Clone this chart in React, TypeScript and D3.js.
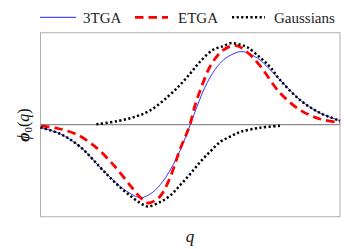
import React from 'react';
import * as d3 from 'd3';

// Gaussian (negative lobe)
const gaussNegQ = [-3.0, -2.6, -2.2, -1.8, -1.6, -1.4, -1.2, -1.0, -0.85, -0.6, -0.4, -0.2, 0.0, 0.2, 0.4, 0.6, 0.8, 1.0, 1.4, 1.84];
const gaussNegV = [-0.035, -0.116, -0.279, -0.536, -0.666, -0.785, -0.89, -0.979, -1.022, -0.966, -0.885, -0.754, -0.616, -0.466, -0.335, -0.216, -0.148, -0.091, -0.038, -0.0125];

// Gaussian (positive lobe)
const gaussPosQ = [-1.88, -1.45, -1.1, -0.8, -0.45, -0.2, 0.0, 0.2, 0.45, 0.65, 0.82, 1.0, 1.15, 1.4, 1.6, 1.8, 2.2, 2.6, 3.0];
const gaussPosV = [0.005, 0.046, 0.1, 0.18, 0.35, 0.5, 0.64, 0.79, 0.934, 0.98, 1.02, 1.0, 0.965, 0.84, 0.72, 0.559, 0.309, 0.146, 0.05];

// 3TGA
const tgaQ = [-3.0, -2.6, -2.2, -1.8, -1.6, -1.4, -1.2, -1.0, -0.8, -0.6, -0.4, -0.2, 0.0, 0.095, 0.295, 0.495, 0.695, 0.96, 1.06, 1.16, 1.4, 1.5, 1.8, 2.2, 2.6, 3.0];
const tgaV = [-0.035, -0.116, -0.279, -0.536, -0.66, -0.775, -0.86, -0.9125, -0.866, -0.75, -0.566, -0.316, 0.0, 0.16, 0.47, 0.6875, 0.825, 0.909, 0.9125, 0.896, 0.809, 0.75, 0.559, 0.309, 0.146, 0.05];

// ETGA
const etgaQ = [-2.99, -2.65, -2.25, -1.85, -1.61, -1.45, -1.21, -1.01, -0.87, -0.81, -0.61, -0.41, -0.21, -0.07, -0.005, 0.095, 0.23, 0.4, 0.63, 0.9, 1.16, 1.4, 1.8, 2.2, 2.6, 3.0];
const etgaV = [-0.016, -0.0475, -0.129, -0.304, -0.454, -0.566, -0.754, -0.904, -0.975, -0.977, -0.9, -0.67, -0.316, -0.1075, 0.0, 0.24, 0.48, 0.73, 0.9175, 0.9925, 0.896, 0.735, 0.396, 0.184, 0.071, 0.025];

const legendLabels = ['3TGA', 'ETGA', 'Gaussians'];

export default function App() {
  const x = d3.scaleLinear().domain([-3, 3]).range([40.5, 340]);
  const y = d3.scaleLinear().domain([-1.15, 1.15]).range([216.7, 32.7]);

  const mk = (qs: number[], vs: number[]) =>
    d3
      .line<number>()
      .x((_, i) => x(qs[i]))
      .y((_, i) => y(vs[i]))
      .curve(d3.curveCatmullRom.alpha(0.5))(qs) as string;

  return (
    <svg width={350} height={249} style={{ position: 'absolute', left: 0, top: 0 }}>
      <rect x={0} y={0} width={350} height={249} fill="#fff" />
      {/* frame */}
      <rect
        x={x(-3)}
        y={y(1.15)}
        width={x(3) - x(-3)}
        height={y(-1.15) - y(1.15)}
        fill="none"
        stroke="#b0b0b0"
        strokeWidth={1}
      />
      {/* zero line */}
      <line x1={x(-3)} x2={x(3)} y1={y(0)} y2={y(0)} stroke="#8c8c8c" strokeWidth={1.3} />

      <path d={mk(tgaQ, tgaV)} fill="none" stroke="#1f1fff" strokeWidth={0.9} />
      <path d={mk(etgaQ, etgaV)} fill="none" stroke="#ff0000" strokeWidth={2.8} strokeDasharray="8.5 5" />
      <path d={mk(gaussNegQ, gaussNegV)} fill="none" stroke="#000" strokeWidth={2.5} strokeDasharray="2.2 2.4" />
      <path d={mk(gaussPosQ, gaussPosV)} fill="none" stroke="#000" strokeWidth={2.5} strokeDasharray="2.2 2.4" />

      {/* legend */}
      <line x1={40} x2={76} y1={17.3} y2={17.3} stroke="#1f1fff" strokeWidth={1} />
      <text x={83} y={22.5} fontSize={15} fill="#222" fontFamily="Liberation Serif">{legendLabels[0]}</text>
      <line x1={135} x2={168} y1={17.3} y2={17.3} stroke="#ff0000" strokeWidth={2.8} strokeDasharray="8.5 5" />
      <text x={178} y={22.5} fontSize={15} fill="#222" fontFamily="Liberation Serif">{legendLabels[1]}</text>
      <line x1={232} x2={265} y1={17.3} y2={17.3} stroke="#000" strokeWidth={2.5} strokeDasharray="2.2 2.4" />
      <text x={274} y={22.5} fontSize={15} fill="#222" fontFamily="Liberation Serif">{legendLabels[2]}</text>

      {/* axis labels */}
      <text x={190} y={242} fontSize={17} fontStyle="italic" textAnchor="middle" fill="#111" fontFamily="Liberation Serif">q</text>
      <text
        transform="translate(29,125) rotate(-90)"
        textAnchor="middle"
        fontSize={16}
        fill="#111"
        fontFamily="Liberation Serif"
      >
        <tspan fontStyle="italic" fontWeight="bold">ϕ</tspan>
        <tspan fontSize={11} dy={3}>0</tspan>
        <tspan dy={-3}>(</tspan>
        <tspan fontStyle="italic">q</tspan>
        <tspan>)</tspan>
      </text>
    </svg>
  );
}
